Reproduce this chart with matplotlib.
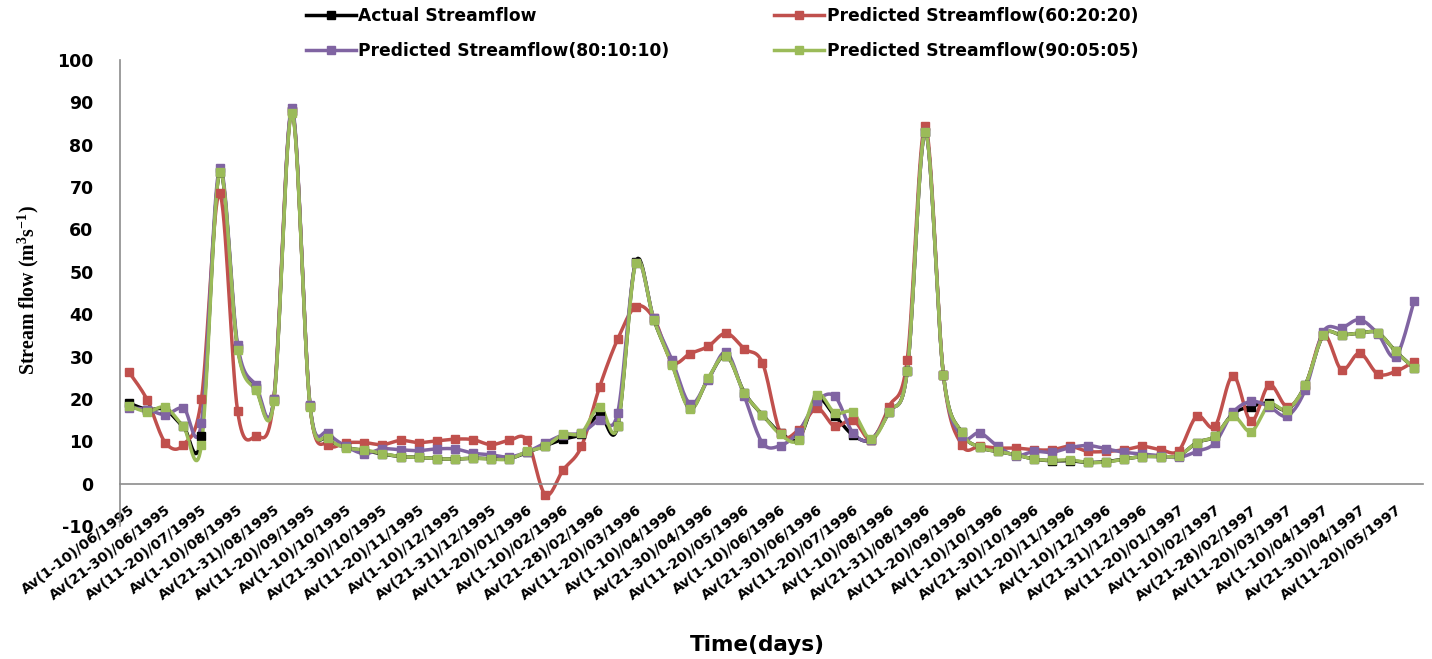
import numpy as np
import matplotlib
matplotlib.use("Agg")
from matplotlib import pyplot as plt
from matplotlib.lines import Line2D

plt.rcParams['font.family'] = ['DejaVu Sans']
plt.rcParams['axes.unicode_minus'] = False
plt.rcParams['mathtext.fontset'] = 'custom'
plt.rcParams['mathtext.rm'] = 'Liberation Serif:bold'
plt.rcParams['mathtext.it'] = 'Liberation Serif:bold'
plt.rcParams['mathtext.bf'] = 'Liberation Serif:bold'
plt.rcParams['mathtext.default'] = 'rm'

# Caudal medio por decena (m3/s), jun-1995 a may-1997
actual = [19.0, 17.5, 17.5, 13.5, 11.2, 73.5, 32.0, 22.5, 19.8, 88.0,
          18.4, 10.6, 8.6, 7.8, 7.0, 6.4, 6.2, 5.9, 5.8, 6.0,
          5.9, 5.9, 7.4, 9.0, 10.5, 11.8, 16.3, 13.5, 52.4, 38.7,
          28.3, 17.8, 24.8, 30.2, 21.5, 16.2, 12.0, 10.6, 20.0, 16.0,
          11.5, 10.4, 17.0, 26.5, 83.0, 25.7, 12.1, 8.6, 7.6, 6.8,
          5.8, 5.4, 5.4, 5.0, 5.2, 5.8, 6.4, 6.4, 6.6, 9.7,
          11.2, 16.5, 18.2, 19.0, 17.5, 23.3, 35.1, 35.1, 35.5, 35.6,
          31.2, 27.3]
pred_60 = [26.3, 19.8, 9.7, 9.2, 20.0, 68.5, 17.1, 11.2, 20.0, 88.0,
           18.4, 9.2, 9.7, 9.7, 9.2, 10.2, 9.7, 10.1, 10.5, 10.4,
           9.2, 10.2, 10.2, -2.6, 3.3, 8.8, 22.8, 34.1, 41.8, 39.0,
           28.8, 30.7, 32.4, 35.5, 31.8, 28.5, 12.0, 12.7, 17.8, 13.5,
           15.1, 10.4, 18.2, 29.2, 84.5, 25.7, 9.2, 8.8, 8.4, 8.4,
           8.0, 8.0, 8.8, 7.6, 7.6, 8.0, 8.8, 8.0, 7.8, 15.9,
           13.5, 25.5, 14.7, 23.3, 18.2, 23.0, 35.1, 26.9, 30.8, 25.9,
           26.5, 28.8]
pred_80 = [17.9, 17.5, 16.3, 17.9, 14.4, 74.5, 32.8, 23.3, 20.0, 88.7,
           18.6, 12.0, 8.8, 7.1, 8.2, 8.0, 7.8, 8.2, 8.2, 7.2,
           6.8, 6.3, 7.5, 9.6, 11.5, 12.0, 15.1, 16.7, 52.0, 39.0,
           29.2, 18.9, 24.5, 31.0, 20.6, 9.6, 9.0, 12.3, 19.4, 20.6,
           12.0, 10.4, 17.0, 26.5, 83.0, 25.7, 11.2, 12.0, 8.8, 6.6,
           7.6, 7.4, 8.5, 9.0, 8.2, 7.4, 7.0, 6.6, 6.2, 7.6,
           9.6, 16.8, 19.4, 18.2, 16.0, 22.2, 35.9, 36.7, 38.7, 35.4,
           30.0, 43.0]
pred_90 = [18.4, 17.0, 18.0, 13.5, 9.2, 73.5, 31.6, 22.2, 19.4, 87.5,
           18.2, 10.8, 8.5, 8.0, 7.1, 6.4, 6.2, 5.9, 5.8, 6.0,
           5.8, 5.8, 7.6, 8.8, 11.6, 12.0, 18.2, 13.5, 52.0, 38.7,
           28.1, 17.6, 24.9, 30.2, 21.4, 16.3, 11.6, 10.4, 21.0, 16.7,
           16.8, 10.5, 17.0, 26.5, 83.0, 25.7, 12.1, 8.6, 7.6, 6.8,
           5.8, 5.5, 5.6, 5.0, 5.1, 5.8, 6.4, 6.4, 6.6, 9.7,
           11.2, 15.9, 12.3, 18.6, 17.5, 23.3, 35.1, 35.1, 35.5, 35.6,
           31.2, 27.3]

etiquetas = ['Av(1-10)/06/1995', 'Av(21-30)/06/1995', 'Av(11-20)/07/1995',
             'Av(1-10)/08/1995', 'Av(21-31)/08/1995', 'Av(11-20)/09/1995',
             'Av(1-10)/10/1995', 'Av(21-30)/10/1995', 'Av(11-20)/11/1995',
             'Av(1-10)/12/1995', 'Av(21-31)/12/1995', 'Av(11-20)/01/1996',
             'Av(1-10)/02/1996', 'Av(21-28)/02/1996', 'Av(11-20)/03/1996',
             'Av(1-10)/04/1996', 'Av(21-30)/04/1996', 'Av(11-20)/05/1996',
             'Av(1-10)/06/1996', 'Av(21-30)/06/1996', 'Av(11-20)/07/1996',
             'Av(1-10)/08/1996', 'Av(21-31)/08/1996', 'Av(11-20)/09/1996',
             'Av(1-10)/10/1996', 'Av(21-30)/10/1996', 'Av(11-20)/11/1996',
             'Av(1-10)/12/1996', 'Av(21-31)/12/1996', 'Av(11-20)/01/1997',
             'Av(1-10)/02/1997', 'Av(21-28)/02/1997', 'Av(11-20)/03/1997',
             'Av(1-10)/04/1997', 'Av(21-30)/04/1997', 'Av(11-20)/05/1997']

nombres = ['Actual Streamflow', 'Predicted Streamflow(60:20:20)',
           'Predicted Streamflow(80:10:10)', 'Predicted Streamflow(90:05:05)']
colores = ['#000000', '#C0504D', '#8064A2', '#9BBB59']


def suavizar(y, pasos=16):
    # curva tipo Bezier (como las lineas suavizadas de Excel)
    y = np.asarray(y, dtype=float)
    n = len(y)
    x = np.arange(n, dtype=float)
    xs = []
    ys = []
    for i in range(n - 1):
        x0, y0 = x[max(i - 1, 0)], y[max(i - 1, 0)]
        x1, y1 = x[i], y[i]
        x2, y2 = x[i + 1], y[i + 1]
        x3, y3 = x[min(i + 2, n - 1)], y[min(i + 2, n - 1)]
        c1x, c1y = x1 + (x2 - x0) / 6, y1 + (y2 - y0) / 6
        c2x, c2y = x2 - (x3 - x1) / 6, y2 - (y3 - y1) / 6
        t = np.linspace(0, 1, pasos, endpoint=(i == n - 2))
        a = (1 - t) ** 3
        b = 3 * (1 - t) ** 2 * t
        c = 3 * (1 - t) * t ** 2
        d = t ** 3
        xs.append(a * x1 + b * c1x + c * c2x + d * x2)
        ys.append(a * y1 + b * c1y + c * c2y + d * y2)
    return np.concatenate(xs), np.concatenate(ys)


fig = plt.figure(figsize=(14.32, 6.59), dpi=100)
ax = fig.add_axes([0.0838, 0.2018, 0.9099, 0.7072])

# el eje X cruza en 0 (antes de poner las etiquetas, si no se pierden)
ax.spines['top'].set_visible(False)
ax.spines['right'].set_visible(False)
ax.spines['bottom'].set_position(('data', 0))
for lado in ['left', 'bottom']:
    ax.spines[lado].set_color('#8C8C8C')
    ax.spines[lado].set_linewidth(1.2)

series = [actual, pred_60, pred_80, pred_90]
for serie, color in zip(series, colores):
    xc, yc = suavizar(serie)
    ax.plot(xc, yc, color=color, linewidth=2.5, solid_capstyle='round', zorder=2)
    ax.plot(np.arange(len(serie)), serie, linestyle='none', marker='s',
            markersize=6, color=color, zorder=3)

ax.set_xlim(-0.5, len(actual) - 0.5)
ax.set_ylim(-10, 100)
ax.set_yticks(np.arange(-10, 101, 10))
ax.set_xticks(np.arange(0, len(actual), 2))
ax.tick_params(axis='y', length=0, pad=19, labelsize=12.5)
ax.tick_params(axis='x', length=0, pad=14)
ax.set_xticklabels(etiquetas, rotation=37, ha='right', va='top',
                   rotation_mode='anchor', fontsize=10.3, fontweight='bold')
for lab in ax.get_yticklabels():
    lab.set_fontweight('bold')

fig.text(0.020, 0.56, r'Stream flow (m$^3$s$^{-1}$)', rotation=90,
         ha='center', va='center', fontsize=14.3, family='Liberation Serif',
         fontweight='bold')
fig.text(0.529, 0.021, 'Time(days)', ha='center', va='center',
         fontsize=15.5, fontweight='bold')

handles = [Line2D([], [], color=c, linewidth=2.5, marker='s', markersize=6)
           for c in colores]
orden = [0, 2, 1, 3]
fig.legend([handles[k] for k in orden], [nombres[k] for k in orden],
           loc='upper left', bbox_to_anchor=(0.203, 1.013), ncol=2,
           frameon=False, handlelength=2.9, handletextpad=0.15,
           columnspacing=6.15, labelspacing=0.99,
           prop={'weight': 'bold', 'size': 12.3})

fig.savefig('out.png', dpi=100)
